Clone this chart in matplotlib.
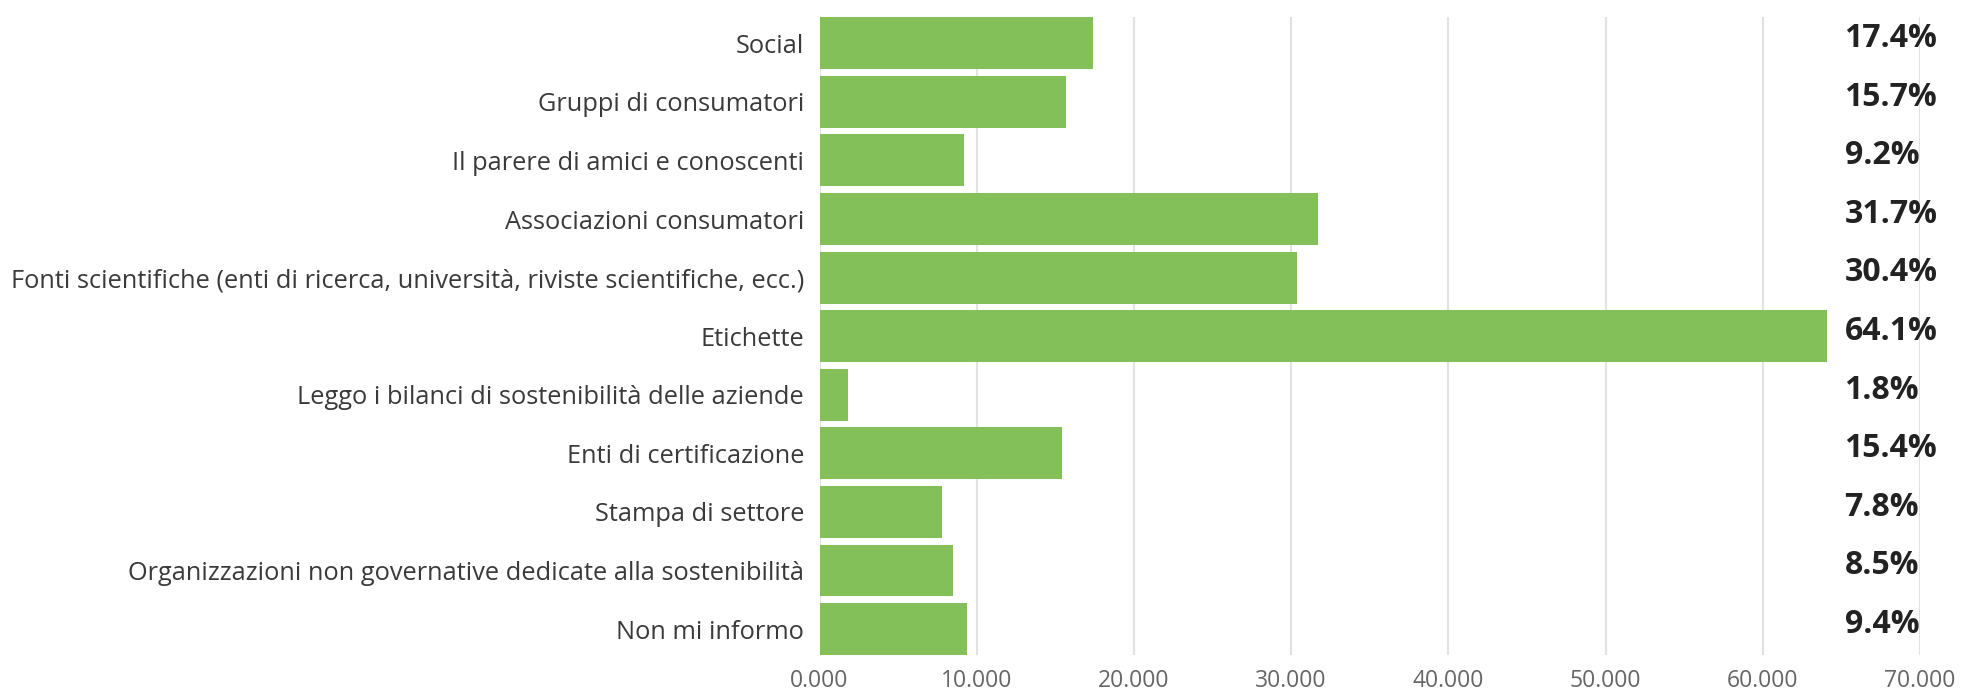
import matplotlib
matplotlib.use("Agg")
import matplotlib.pyplot as plt
from matplotlib.ticker import FuncFormatter

categories = [
    "Social",
    "Gruppi di consumatori",
    "Il parere di amici e conoscenti",
    "Associazioni consumatori",
    "Fonti scientifiche (enti di ricerca, università, riviste scientifiche, ecc.)",
    "Etichette",
    "Leggo i bilanci di sostenibilità delle aziende",
    "Enti di certificazione",
    "Stampa di settore",
    "Organizzazioni non governative dedicate alla sostenibilità",
    "Non mi informo",
]
values = [17.4, 15.7, 9.2, 31.7, 30.4, 64.1, 1.8, 15.4, 7.8, 8.5, 9.4]
x_ticks = [0, 10, 20, 30, 40, 50, 60, 70]

BAR_COLOR = "#83C05A"
BAR_H = 0.885

plt.rcParams["font.family"] = ["Open Sans", "DejaVu Sans"]

fig = plt.figure(figsize=(19.8, 6.93), dpi=100)
ax = fig.add_axes([0.4139, 0.0548, 0.9697 - 0.4139, 0.975 - 0.0548])

y = list(range(len(categories)))
ax.barh(y, values, height=BAR_H, color=BAR_COLOR, zorder=3)

ax.set_xlim(0, 70)
ax.set_ylim(len(categories) - 1 + BAR_H / 2, -BAR_H / 2)

ax.set_xticks(x_ticks)
ax.xaxis.set_major_formatter(FuncFormatter(lambda v, p: f"{v:.3f}"))
ax.set_yticks(y)
ax.set_yticklabels(categories)

ax.tick_params(axis="y", length=0, pad=11, labelsize=18.3, labelcolor="#3a3a3a")
ax.tick_params(axis="x", length=0, pad=10, labelsize=16.5, labelcolor="#666666")

ax.grid(axis="x", color="#e2e2e2", linewidth=1.5, zorder=0)
ax.grid(axis="y", visible=False)
for s in ax.spines.values():
    s.set_visible(False)

# percentage labels in a column at the right
for yi, v in zip(y, values):
    ax.text(65.2, yi - 0.08, f"{v}%", ha="left", va="center",
            fontsize=23, fontweight="bold", color="#222222", zorder=4,
            clip_on=False)

fig.savefig("out.png", dpi=100, facecolor="white")
